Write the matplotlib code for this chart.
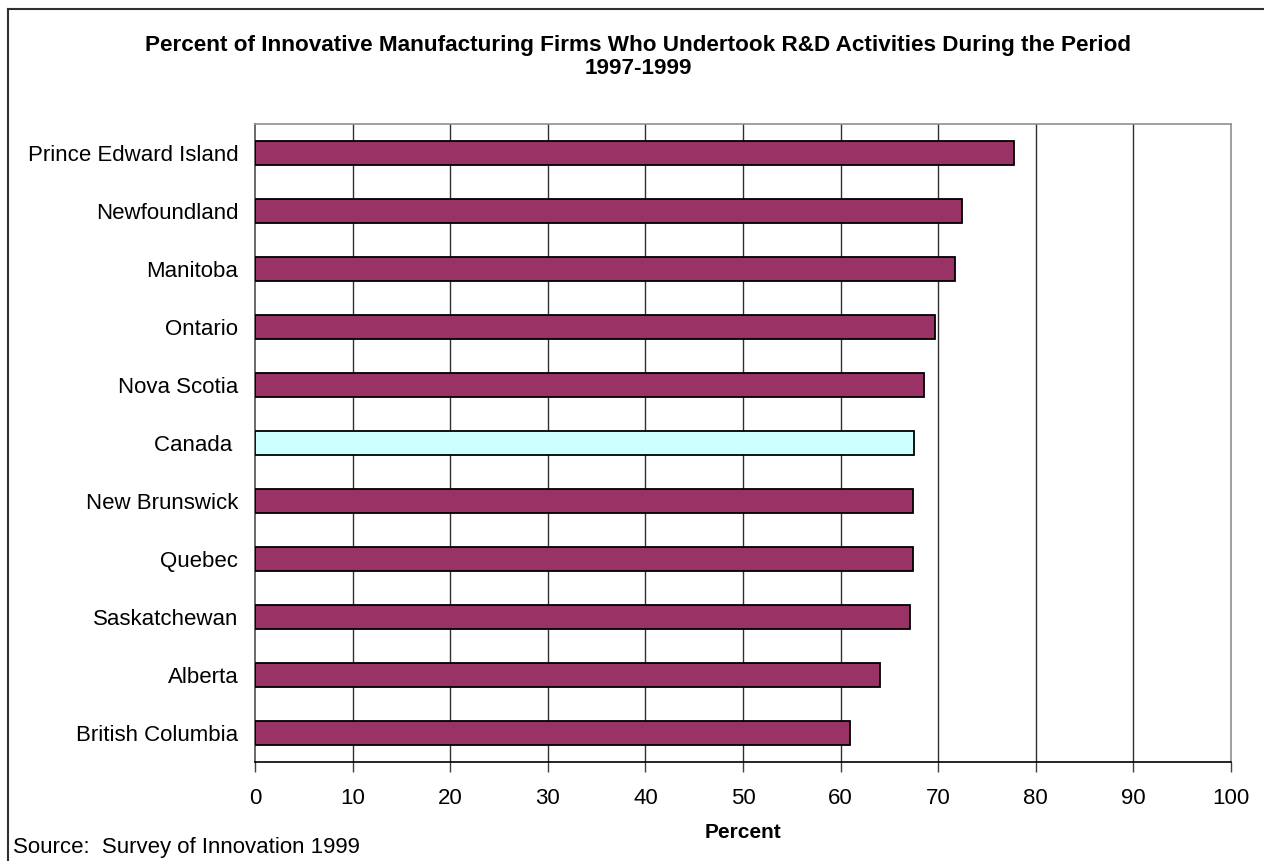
import matplotlib
matplotlib.use('Agg')
import matplotlib.pyplot as plt
from matplotlib.lines import Line2D

plt.rcParams['font.family'] = ['Liberation Sans', 'DejaVu Sans']

# data, bottom to top as drawn
provinces = ['British Columbia', 'Alberta', 'Saskatchewan', 'Quebec', 'New Brunswick',
             'Canada ', 'Nova Scotia', 'Ontario', 'Manitoba', 'Newfoundland',
             'Prince Edward Island']
percent = [61.0, 64.0, 67.1, 67.4, 67.4, 67.5, 68.5, 69.7, 71.7, 72.4, 77.8]
xticks = [0, 10, 20, 30, 40, 50, 60, 70, 80, 90, 100]
title_lines = ['Percent of Innovative Manufacturing Firms Who Undertook R&D Activities During the Period',
               '1997-1999']

W, H = 1264, 861
fig = plt.figure(figsize=(W / 100, H / 100), dpi=100)
ax = fig.add_axes([255 / W, 1 - 762 / H, (1231 - 255) / W, (762 - 124) / H])

colors = ['#CCFFFF' if p.strip() == 'Canada' else '#993366' for p in provinces]
ax.barh(range(len(provinces)), percent, height=0.4, color=colors,
        edgecolor='black', linewidth=1.3, zorder=3)

ax.set_xlim(0, 100)
ax.set_ylim(-0.5, len(provinces) - 0.5)
ax.set_xticks(xticks)
ax.set_yticks(range(len(provinces)))
ax.set_yticklabels(provinces, fontsize=16)
ax.tick_params(axis='y', length=0, pad=12)
ax.tick_params(axis='x', length=7, width=1, color='#404040', labelsize=16, pad=12)
for t in xticks[1:-1]:
    ax.axvline(t, color='#303030', linewidth=1, zorder=1)

ax.spines['top'].set_color('#909090')
ax.spines['right'].set_color('#909090')
ax.spines['left'].set_color('#505050')
ax.spines['bottom'].set_color('black')
for s in ax.spines.values():
    s.set_linewidth(1.2)

ax.set_xlabel('Percent', fontsize=15, fontweight='bold', labelpad=10)

fig.text(638 / W, 1 - 46 / H, title_lines[0], ha='center', va='center',
         fontsize=16.2, fontweight='bold')
fig.text(638 / W, 1 - 69 / H, title_lines[1], ha='center', va='center',
         fontsize=16.2, fontweight='bold')
fig.text(13 / W, 1 - 847 / H, 'Source:  Survey of Innovation 1999', ha='left', va='center',
         fontsize=16)

# outer frame (left and top edges visible)
fig.add_artist(Line2D([8 / W, 8 / W], [0, 1 - 9 / H], transform=fig.transFigure,
                      color='#303030', linewidth=1.5))
fig.add_artist(Line2D([8 / W, 1], [1 - 9 / H, 1 - 9 / H], transform=fig.transFigure,
                      color='#303030', linewidth=1.5))

fig.savefig('out.png', dpi=100)
